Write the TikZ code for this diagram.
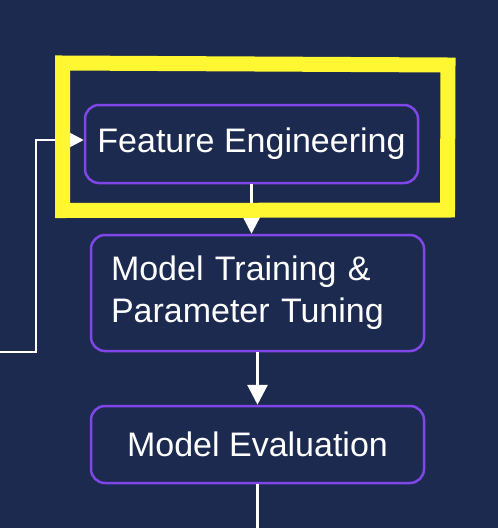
\documentclass[tikz,border=0pt]{standalone}
\usepackage{fontspec}
\setmainfont{Liberation Sans}
\usetikzlibrary{arrows.meta, positioning}
\definecolor{bgnavy}{RGB}{28,42,80}
\definecolor{stageborder}{RGB}{128,70,232}
\definecolor{markyellow}{RGB}{255,247,50}
\tikzstyle{stage} = [rectangle, rounded corners=14pt, minimum width=333pt, minimum height=78pt,
    draw=stageborder, line width=2.5pt, fill=bgnavy, text=white, font=\fontsize{34}{42}\selectfont]
\tikzstyle{arrow} = [white, line width=3pt, -{Triangle[length=20pt, width=20pt]}]
\tikzstyle{loopback} = [white, line width=2.5pt, -{Triangle[length=14pt, width=14pt]}]

\begin{document}
\begin{tikzpicture}[x=1pt, y=1pt]
  \fill[bgnavy] (0,0) rectangle (498,-528);
  \useasboundingbox (0,0) rectangle (498,-528);

  \node (feat)  [stage] at (251.5,-144) {Feature Engineering};
  \node (train) [stage, below=49.5pt of feat, xshift=6pt, minimum height=116pt,
                 text width=293pt, inner xsep=20pt, align=left] {Model Training \&\\Parameter Tuning};
  \node (eval)  [stage, below=52.5pt of train, minimum height=77pt] {Model Evaluation};
  \coordinate (loopin) at (0,-352);
  \coordinate (exit) at (eval.south |- 0,-528);

  \draw[arrow] (feat.south) -- (feat.south |- train.north);
  \draw[arrow] (train) -- (eval);
  \draw[white, line width=3pt] (eval.south) -- (exit);
  \draw[loopback] (loopin) -- ++(36,0) |- ([yshift=4pt]feat.west);

  % highlight
  \draw[markyellow, line width=15pt, line join=miter]
    (62.5,-63) -- (448,-65) -- (447.5,-210) -- (62.5,-210.5) -- cycle;
\end{tikzpicture}
\end{document}
